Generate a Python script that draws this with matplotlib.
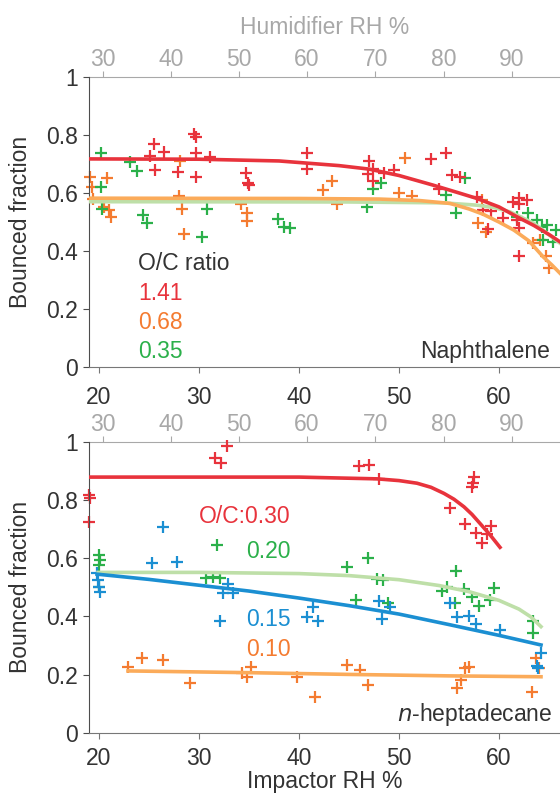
import matplotlib
matplotlib.use("Agg")
from matplotlib import pyplot as plt

plt.rcParams['font.family'] = ['Liberation Sans', 'DejaVu Sans']
plt.rcParams['font.size'] = 16.5

# ---- Naphthalene (top panel) ----
nap_red_x = [25.5, 25.1, 26.5, 25.6, 27.9, 29.5, 29.7, 29.7, 31.1, 29.7, 34.7, 34.9, 35.0,
             40.8, 40.8, 47.0, 46.9, 47.4, 48.5, 49.5, 47.4, 53.2, 54.7, 55.3, 56.1, 54.0,
             57.8, 58.4, 59.2, 60.4, 61.4, 62.0, 62.8, 62.0, 61.8, 62.0, 62.0, 58.9]
nap_red_y = [0.767, 0.727, 0.742, 0.679, 0.672, 0.802, 0.793, 0.739, 0.723, 0.656, 0.670, 0.635, 0.628,
             0.736, 0.681, 0.711, 0.664, 0.684, 0.670, 0.679, 0.642, 0.715, 0.738, 0.662, 0.656, 0.612,
             0.587, 0.541, 0.539, 0.513, 0.570, 0.581, 0.576, 0.562, 0.507, 0.478, 0.383, 0.477]
nap_orange_x = [19.1, 19.3, 19.4, 20.8, 20.5, 21.0, 21.2, 28.1, 28.0, 28.3, 28.5, 34.2, 34.8, 34.8,
                42.4, 43.3, 43.8, 50.6, 50.0, 51.3, 58.3, 57.9, 58.7, 63.4, 64.1, 64.7, 65.0]
nap_orange_y = [0.656, 0.619, 0.578, 0.651, 0.553, 0.541, 0.516, 0.711, 0.589, 0.546, 0.459, 0.562, 0.532, 0.503,
                0.610, 0.642, 0.562, 0.720, 0.601, 0.589, 0.576, 0.498, 0.467, 0.427, 0.438, 0.383, 0.341]
nap_green_x = [20.2, 23.1, 23.8, 20.2, 20.3, 24.4, 24.8, 30.8, 30.3, 37.9, 38.5, 39.1,
               46.8, 47.4, 48.2, 56.6, 54.7, 55.7, 61.8, 62.9, 63.8, 64.3, 64.8, 65.7, 64.4, 65.4]
nap_green_y = [0.737, 0.705, 0.676, 0.619, 0.546, 0.523, 0.498, 0.546, 0.450, 0.511, 0.482, 0.478,
               0.553, 0.612, 0.635, 0.650, 0.593, 0.532, 0.518, 0.532, 0.507, 0.484, 0.490, 0.473, 0.438, 0.432]

# fitted curves
nap_red_fit_x = [19.0, 30, 38, 41, 44, 47, 50, 53.4, 56, 57.8, 60, 61.8, 63.5, 65.1, 66.1]
nap_red_fit_y = [0.717, 0.716, 0.710, 0.702, 0.694, 0.682, 0.660, 0.627, 0.600, 0.581, 0.552, 0.518, 0.488, 0.455, 0.432]
nap_orange_fit_x = [19.0, 40, 48, 52, 55.1, 57, 58.4, 60, 61.5, 63, 64.4, 65.3, 66.1]
nap_orange_fit_y = [0.582, 0.581, 0.579, 0.574, 0.564, 0.545, 0.527, 0.500, 0.472, 0.435, 0.381, 0.352, 0.324]
nap_green_fit_x = [19.0, 45, 54.4, 57.8, 59.5, 61.1, 62.5, 63.5, 64.4, 65.3, 66.1]
nap_green_fit_y = [0.570, 0.569, 0.566, 0.558, 0.550, 0.535, 0.512, 0.495, 0.472, 0.448, 0.427]

# ---- n-heptadecane (bottom panel) ----
hep_red_x = [32.8, 31.6, 32.2, 19.0, 19.1, 19.0, 46.0, 47.0, 48.0, 57.5, 57.4, 57.3,
             55.1, 56.6, 57.7, 58.3, 58.8, 59.2]
hep_red_y = [0.985, 0.942, 0.925, 0.815, 0.805, 0.725, 0.916, 0.919, 0.870, 0.877, 0.859, 0.845,
             0.771, 0.717, 0.687, 0.651, 0.683, 0.710]
hep_green_x = [20.0, 20.1, 20.0, 20.0, 31.8, 30.7, 31.4, 32.1, 44.8, 45.7, 46.9, 47.8, 48.4, 48.9,
               54.3, 54.8, 55.7, 55.6, 56.5, 57.3, 58.0, 59.1, 59.5, 63.4, 63.4]
hep_green_y = [0.611, 0.593, 0.576, 0.500, 0.645, 0.531, 0.534, 0.531, 0.571, 0.456, 0.599, 0.527, 0.525, 0.445,
               0.488, 0.502, 0.557, 0.445, 0.493, 0.468, 0.437, 0.456, 0.498, 0.385, 0.342]
hep_blue_x = [26.4, 25.3, 27.8, 19.8, 19.9, 20.0, 20.1, 32.9, 32.4, 33.4, 32.1, 40.8, 41.4, 41.9,
              48.0, 48.3, 49.1, 55.1, 55.8, 57.0, 57.7, 60.1, 64.2, 63.8, 63.9]
hep_blue_y = [0.708, 0.584, 0.587, 0.548, 0.525, 0.502, 0.485, 0.511, 0.481, 0.479, 0.384, 0.397, 0.433, 0.384,
              0.454, 0.390, 0.431, 0.445, 0.397, 0.401, 0.374, 0.353, 0.275, 0.230, 0.222]
hep_orange_x = [22.9, 24.3, 26.4, 29.1, 34.3, 34.8, 35.2, 39.8, 41.6, 44.8, 46.1, 46.9,
                55.8, 56.2, 56.6, 57.0, 63.3, 63.7, 64.0]
hep_orange_y = [0.225, 0.256, 0.250, 0.173, 0.205, 0.191, 0.225, 0.191, 0.122, 0.233, 0.216, 0.165,
                0.155, 0.182, 0.222, 0.225, 0.142, 0.256, 0.222]

hep_red_fit_x = [19.0, 40, 47.8, 50, 51.8, 53.2, 54.5, 55.5, 56.5, 57.3, 58.1, 59.1, 60.1]
hep_red_fit_y = [0.878, 0.878, 0.872, 0.866, 0.857, 0.843, 0.822, 0.802, 0.776, 0.750, 0.719, 0.680, 0.637]
hep_green_fit_x = [19.9, 30, 40, 45, 50, 54, 57, 60, 62, 63.2, 64.2]
hep_green_fit_y = [0.551, 0.551, 0.547, 0.540, 0.526, 0.506, 0.485, 0.455, 0.425, 0.398, 0.365]
hep_blue_fit_x = [19.8, 25, 30, 35, 40, 45, 50, 55, 60, 64.2]
hep_blue_fit_y = [0.545, 0.527, 0.507, 0.487, 0.463, 0.437, 0.408, 0.372, 0.335, 0.302]
hep_orange_fit_x = [22.9, 35, 45, 55, 64.2]
hep_orange_fit_y = [0.213, 0.207, 0.201, 0.196, 0.193]

y_ticks = [0, 0.2, 0.4, 0.6, 0.8, 1.0]
y_tick_labels = ["0", "0.2", "0.4", "0.6", "0.8", "1"]
x_ticks = [20, 30, 40, 50, 60]
hum_ticks = [30, 40, 50, 60, 70, 80, 90]

RED = "#e8333c"
ORANGE = "#f47b30"
ORANGE_FIT = "#fbab5a"
GREEN = "#2bb04a"
GREEN_FIT = "#bedfa8"
BLUE = "#1b8fd2"
GRAY = "#a8a8a8"
DARK = "#333333"


def imp_to_hum(x):
	return 30 + (x - 20.35) / 0.682


def hum_to_imp(h):
	return 20.35 + (h - 30) * 0.682


def style_axes(ax, xpad, hum_label=False):
	ax.set_xlim(19.03, 66.1)
	ax.set_ylim(0, 1)
	ax.spines["right"].set_visible(False)
	ax.spines["top"].set_visible(False)
	ax.spines["left"].set_color("#4d4d4d")
	ax.spines["bottom"].set_color("#777777")
	ax.set_yticks(y_ticks)
	ax.set_yticklabels(y_tick_labels)
	ax.set_xticks(x_ticks)
	ax.tick_params(axis="y", colors="#4d4d4d", labelcolor=DARK, length=4.5, pad=3.5)
	ax.tick_params(axis="x", colors="#777777", labelcolor=DARK, length=4, pad=xpad)
	sec = ax.secondary_xaxis("top", functions=(imp_to_hum, hum_to_imp))
	sec.set_xticks(hum_ticks)
	sec.spines["top"].set_color(GRAY)
	sec.tick_params(colors=GRAY, labelcolor=GRAY, length=4, pad=0)
	if hum_label:
		sec.set_xlabel("Humidifier RH %", color=GRAY, labelpad=10)
	ax.set_ylabel("Bounced fraction", color=DARK, labelpad=10)


def crosses(ax, x, y, color):
	ax.plot(x, y, "+", color=color, markersize=8.5, markeredgewidth=1.6, zorder=2, clip_on=False)


fig = plt.figure(figsize=(5.6, 7.97), dpi=100)
ax1 = fig.add_axes([0.1595, 0.5389, 0.8405, 0.365])
ax2 = fig.add_axes([0.1595, 0.0803, 0.8405, 0.3657])

# Top panel
crosses(ax1, nap_orange_x, nap_orange_y, ORANGE)
crosses(ax1, nap_green_x, nap_green_y, GREEN)
crosses(ax1, nap_red_x, nap_red_y, RED)
ax1.plot(nap_green_fit_x, nap_green_fit_y, "-", color=GREEN_FIT, lw=2.6, zorder=3)
ax1.plot(nap_orange_fit_x, nap_orange_fit_y, "-", color=ORANGE_FIT, lw=2.6, zorder=3)
ax1.plot(nap_red_fit_x, nap_red_fit_y, "-", color=RED, lw=2.6, zorder=3)
style_axes(ax1, 9, hum_label=True)
ax1.text(23.9, 0.356, "O/C ratio", color=DARK, ha="left", va="center")
ax1.text(23.9, 0.256, "1.41", color=RED, ha="left", va="center")
ax1.text(23.9, 0.156, "0.68", color=ORANGE, ha="left", va="center")
ax1.text(23.9, 0.056, "0.35", color=GREEN, ha="left", va="center")
ax1.text(65.1, 0.056, "Naphthalene", color=DARK, ha="right", va="center")

# Bottom panel
crosses(ax2, hep_orange_x, hep_orange_y, ORANGE)
crosses(ax2, hep_green_x, hep_green_y, GREEN)
crosses(ax2, hep_blue_x, hep_blue_y, BLUE)
crosses(ax2, hep_red_x, hep_red_y, RED)
ax2.plot(hep_orange_fit_x, hep_orange_fit_y, "-", color=ORANGE_FIT, lw=2.6, zorder=3)
ax2.plot(hep_green_fit_x, hep_green_fit_y, "-", color=GREEN_FIT, lw=2.6, zorder=3)
ax2.plot(hep_blue_fit_x, hep_blue_fit_y, "-", color=BLUE, lw=2.6, zorder=3)
ax2.plot(hep_red_fit_x, hep_red_fit_y, "-", color=RED, lw=2.6, zorder=3)
style_axes(ax2, 6)
ax2.set_xlabel("Impactor RH %", color=DARK, labelpad=0)
ax2.text(39.1, 0.742, "O/C:0.30", color=RED, ha="right", va="center")
ax2.text(39.2, 0.622, "0.20", color=GREEN, ha="right", va="center")
ax2.text(39.2, 0.391, "0.15", color=BLUE, ha="right", va="center")
ax2.text(39.2, 0.285, "0.10", color=ORANGE, ha="right", va="center")
ax2.text(65.3, 0.065, "$\\it{n}$-heptadecane", color=DARK, ha="right", va="center")

fig.savefig("out.png", dpi=100)
